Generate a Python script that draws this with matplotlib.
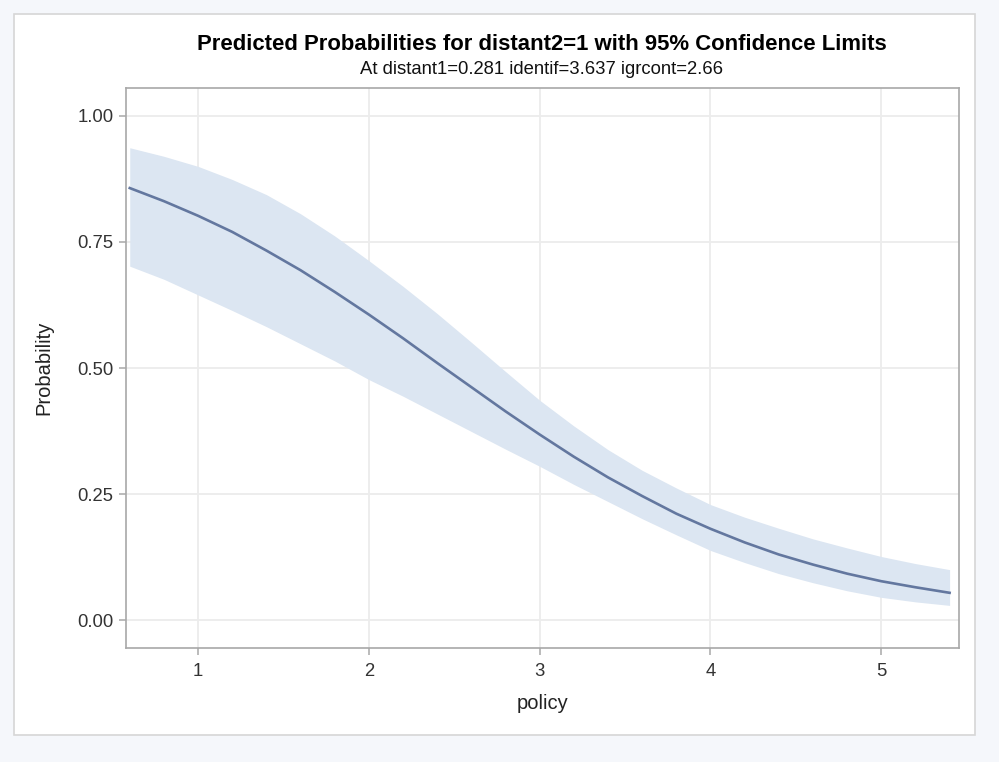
import numpy as np
import matplotlib.pyplot as plt
from matplotlib.patches import Rectangle

# values
policy = [0.6, 0.8, 1.0, 1.2, 1.4, 1.6, 1.8, 2.0, 2.2, 2.4, 2.6, 2.8, 3.0,
          3.2, 3.4, 3.6, 3.8, 4.0, 4.2, 4.4, 4.6, 4.8, 5.0, 5.2, 5.4]
prob = [0.857, 0.831, 0.802, 0.770, 0.733, 0.694, 0.651, 0.606, 0.559, 0.510,
        0.462, 0.414, 0.368, 0.324, 0.283, 0.246, 0.211, 0.181, 0.154, 0.130,
        0.110, 0.092, 0.077, 0.065, 0.054]
upper = [0.937, 0.920, 0.900, 0.874, 0.844, 0.806, 0.762, 0.713, 0.662, 0.608,
         0.551, 0.493, 0.436, 0.385, 0.338, 0.297, 0.262, 0.229, 0.204, 0.182,
         0.161, 0.143, 0.126, 0.112, 0.100]
lower = [0.702, 0.676, 0.645, 0.614, 0.582, 0.548, 0.514, 0.477, 0.444, 0.409,
         0.374, 0.339, 0.305, 0.269, 0.235, 0.201, 0.169, 0.138, 0.114, 0.092,
         0.074, 0.058, 0.045, 0.036, 0.029]
xticks = [1, 2, 3, 4, 5]
yticks = [0.0, 0.25, 0.5, 0.75, 1.0]

plt.rcParams['font.family'] = ['Liberation Sans', 'DejaVu Sans']

fig = plt.figure(figsize=(9.99, 7.62), dpi=100)
fig.patch.set_facecolor('#f5f7fb')
W, H = 999, 762

# white panel with light border, behind the axes
fig.patches.append(Rectangle((14 / W, 1 - 735 / H), (975 - 14) / W, (735 - 14) / H,
                             transform=fig.transFigure, facecolor='white',
                             edgecolor='#d6d6d6', linewidth=1.2, zorder=-10))

ax = fig.add_axes([126 / W, 1 - 648 / H, (959 - 126) / W, (648 - 88) / H])
ax.set_zorder(1)
ax.set_facecolor('white')

ax.fill_between(policy, lower, upper, color='#dce6f2', linewidth=0, zorder=2)
ax.plot(policy, prob, color='#63779f', linewidth=1.9, zorder=3)

ax.set_xlim(0.578, 5.455)
ax.set_ylim(-0.0555, 1.0555)
ax.set_xticks(xticks)
ax.set_xticklabels([str(t) for t in xticks])
ax.set_yticks(yticks)
ax.set_yticklabels(['%.2f' % t for t in yticks])
ax.grid(True, color='#ececec', linewidth=1.3, zorder=1)
ax.set_axisbelow(True)

for s in ax.spines.values():
    s.set_color('#a8a8a8')
    s.set_linewidth(1.2)
ax.tick_params(axis='both', colors='#a8a8a8', length=5, width=1.1,
               labelcolor='#333333', labelsize=13.3)
ax.tick_params(axis='x', pad=6)
ax.tick_params(axis='y', pad=4)

ax.set_xlabel('policy', fontsize=14.5, color='#222222', labelpad=10)
ax.set_ylabel('Probability', fontsize=14.5, color='#222222', labelpad=17)

fig.text(542 / W, 1 - 44 / H,
         'Predicted Probabilities for distant2=1 with 95% Confidence Limits',
         ha='center', va='center', fontsize=15.9, fontweight='bold', color='black')
fig.text(541 / W, 1 - 69 / H, 'At distant1=0.281 identif=3.637 igrcont=2.66',
         ha='center', va='center', fontsize=13.3, color='#111111')

fig.savefig('out.png', dpi=100, facecolor=fig.get_facecolor())
